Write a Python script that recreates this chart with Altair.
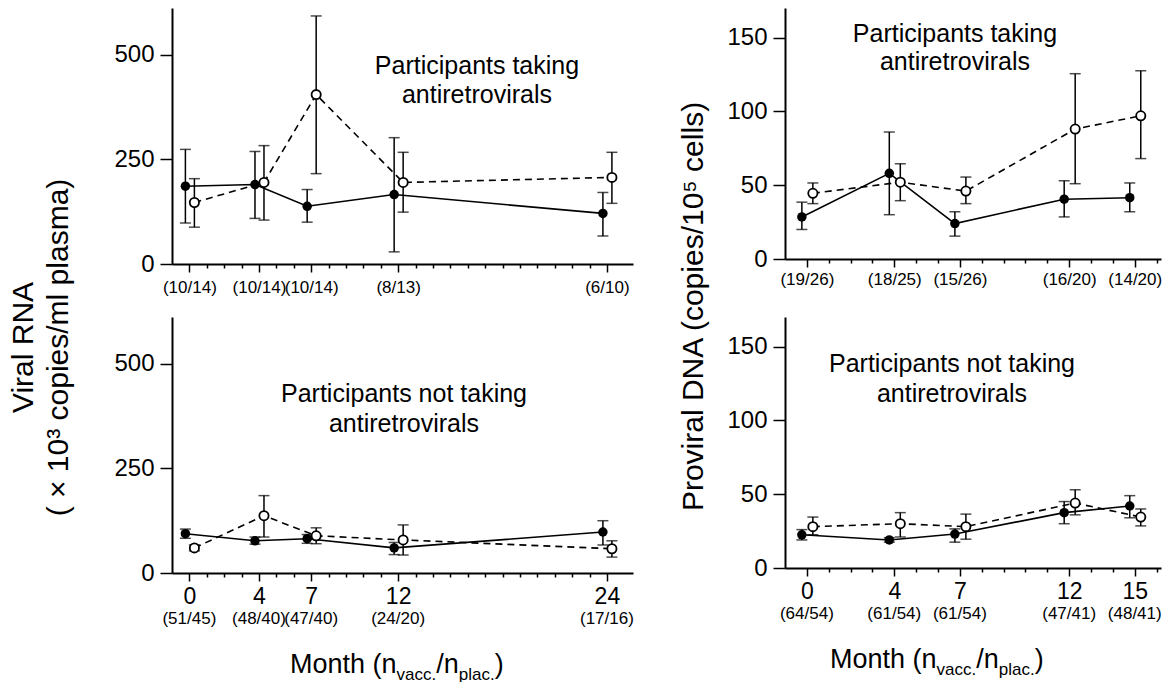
import altair as alt
import pandas as pd

FONT = "Liberation Sans"

# ---------------- data ----------------
months_rna = [0, 4, 7, 12, 24]
months_dna = [0, 4, 7, 12, 15]

# Viral RNA (x10^3 copies/ml plasma), participants taking antiretrovirals
rna_art_vacc = [186, 190, 138, 166, 121]
rna_art_vacc_lo = [98, 109, 100, 29, 67]
rna_art_vacc_hi = [274, 269, 178, 302, 171]
rna_art_plac = [147, 195, 405, 195, 207]
rna_art_plac_lo = [88, 105, 216, 124, 145]
rna_art_plac_hi = [204, 283, 593, 267, 267]

# Viral RNA, participants not taking antiretrovirals
rna_no_vacc = [94, 77, 82, 60, 98]
rna_no_vacc_lo = [83, 69, 71, 44, 67]
rna_no_vacc_hi = [105, 86, 92, 73, 125]
rna_no_plac = [60, 137, 89, 79, 58]
rna_no_plac_lo = [53, 86, 70, 43, 38]
rna_no_plac_hi = [67, 185, 108, 115, 77]

# Proviral DNA (copies/10^5 cells), taking antiretrovirals
dna_art_vacc = [28.5, 58, 24, 40.5, 41.5]
dna_art_vacc_lo = [20, 30, 15.5, 28.5, 32]
dna_art_vacc_hi = [38.5, 86, 32, 53, 51.5]
dna_art_plac = [44.5, 52, 46, 88, 97]
dna_art_plac_lo = [37.5, 39.5, 37.5, 51, 68]
dna_art_plac_hi = [51.5, 64.5, 55.5, 125.5, 127.5]

# Proviral DNA, not taking antiretrovirals
dna_no_vacc = [22.5, 19, 23, 37.5, 42]
dna_no_vacc_lo = [19, 17.5, 17.5, 30, 34]
dna_no_vacc_hi = [26, 20.5, 26.5, 45, 49]
dna_no_plac = [28, 30, 28, 44, 34.5]
dna_no_plac_lo = [22.5, 21, 19.5, 36, 28.5]
dna_no_plac_hi = [34.5, 37.5, 36.5, 53, 40]

n_rna_art = ["(10/14)", "(10/14)", "(10/14)", "(8/13)", "(6/10)"]
n_rna_no = ["(51/45)", "(48/40)", "(47/40)", "(24/20)", "(17/16)"]
n_dna_art = ["(19/26)", "(18/25)", "(15/26)", "(16/20)", "(14/20)"]
n_dna_no = ["(64/54)", "(61/54)", "(61/54)", "(47/41)", "(48/41)"]

rna_yticks = [0, 250, 500]
dna_yticks = [0, 50, 100, 150]

# ---------------- helpers ----------------
CW = {"M": 833, "o": 556, "n": 556, "t": 278, "h": 556, " ": 278, "(": 333,
      ")": 333, "v": 500, "a": 556, "c": 500, ".": 278, "/": 278, "p": 556, "l": 222}


def tw(s, size):
    return sum(CW[c] for c in s) * size / 1000.0


def tern(months, labels):
    expr = "''"
    for m, l in reversed(list(zip(months, labels))):
        expr = f"datum.value == {m} ? '{l}' : ({expr})"
    return expr


def panel(months, vac, plac, nlabels, xdomain, tick_months, ydomain, yticks,
          width, height, top_row, annot, annot_x, annot_y, annot_lh,
          off_v, off_p, ytitle=None, lab_pad=6, xtitle_x=None):
    vdf = pd.DataFrame({"month": months, "value": vac[0], "lo": vac[1], "hi": vac[2]})
    pdf = pd.DataFrame({"month": months, "value": plac[0], "lo": plac[1], "hi": plac[2]})
    xs = alt.Scale(domain=xdomain, nice=False, zero=False)
    ys = alt.Scale(domain=ydomain, nice=False)
    major = f"indexof({list(months)}, datum.value) >= 0"
    if top_row:
        lab_expr = tern(months, nlabels)
        lab_size = 17
    else:
        lab_expr = f"{major} ? datum.label : ''"
        lab_size = 23
    xax = alt.Axis(values=tick_months, labelExpr=lab_expr, labelFontSize=lab_size,
                   labelPadding=lab_pad, labelFont=FONT, labelColor="black",
                   tickSize={"condition": {"test": major, "value": 8}, "value": 4},
                   tickWidth=1.5, tickColor="black", domainWidth=2, domainColor="black",
                   grid=False, title=None, labelFlush=False, labelOverlap=False,
                   labelBound=False)
    ykw = dict(values=yticks, tickSize=12, tickWidth=1.5, tickColor="black",
               domainWidth=2, domainColor="black", labelFontSize=24, labelFont=FONT,
               labelColor="black", labelPadding=6, grid=False)
    if ytitle:
        ykw.update(ytitle)
    else:
        ykw["title"] = None
    yax = alt.Axis(**ykw)
    X = alt.X("month:Q", scale=xs, axis=xax)

    def Y(f):
        return alt.Y(f"{f}:Q", scale=ys, axis=yax)

    layers = []
    layers.append(alt.Chart(pdf).mark_line(color="black", strokeWidth=1.6,
                                           strokeDash=[7, 5], xOffset=off_p)
                  .encode(x=X, y=Y("value")))
    layers.append(alt.Chart(vdf).mark_line(color="black", strokeWidth=1.6, xOffset=off_v)
                  .encode(x=X, y=Y("value")))
    for df, off in [(vdf, off_v), (pdf, off_p)]:
        layers.append(alt.Chart(df).mark_rule(color="black", strokeWidth=1.5, xOffset=off)
                      .encode(x=X, y=Y("lo"), y2="hi:Q"))
        for f in ["lo", "hi"]:
            layers.append(alt.Chart(df).mark_tick(orient="horizontal", size=11, thickness=1.5,
                                                  color="black", xOffset=off)
                          .encode(x=X, y=Y(f)))
    layers.append(alt.Chart(vdf).mark_point(filled=True, color="black", size=90,
                                            opacity=1, xOffset=off_v)
                  .encode(x=X, y=Y("value")))
    layers.append(alt.Chart(pdf).mark_point(filled=True, fill="white", stroke="black",
                                            strokeWidth=1.8, size=85, opacity=1,
                                            xOffset=off_p)
                  .encode(x=X, y=Y("value")))
    if not top_row:
        ldf = pd.DataFrame({"month": months, "lab": nlabels})
        layers.append(alt.Chart(ldf).mark_text(fontSize=17, font=FONT, color="black",
                                               baseline="middle")
                      .encode(x=X, y=alt.value(height + 46), text="lab:N"))
        # x title with subscripts
        pieces = [("Month (n", 27, 0), ("vacc.", 17, 7), ("/n", 27, 0),
                  ("plac.", 17, 7), (")", 27, 0)]
        cx = xtitle_x
        one = pd.DataFrame({"a": [1]})
        for s, fs, dy in pieces:
            layers.append(alt.Chart(one).mark_text(text=s, fontSize=fs, font=FONT,
                                                   color="black", align="left",
                                                   baseline="alphabetic")
                          .encode(x=alt.value(cx), y=alt.value(height + 100 + dy)))
            cx += tw(s, fs)
    one = pd.DataFrame({"a": [1]})
    layers.append(alt.Chart(one).mark_text(text=annot, fontSize=25, font=FONT,
                                           color="black", align="center",
                                           baseline="alphabetic", lineHeight=annot_lh)
                  .encode(x=alt.value(annot_x), y=alt.value(annot_y)))
    return alt.layer(*layers).properties(width=width, height=height)


LW, LH = 461, 256
RW, RH = 376, 251
left_x = [-1, 25.5]
right_x = [-1, 16.2]

tl = panel(months_rna, (rna_art_vacc, rna_art_vacc_lo, rna_art_vacc_hi),
           (rna_art_plac, rna_art_plac_lo, rna_art_plac_hi), n_rna_art,
           left_x, list(range(0, 25)), [0, 612], rna_yticks, LW, LH, True,
           ["Participants taking", "antiretrovirals"], 305, 66, 29, -4, 5,
           ytitle=dict(title=["Viral RNA", "( \u00d7 10\u00b3 copies/ml plasma)"],
                       titleX=-149, titleY=339, titleAngle=270, titleAlign="center",
                       titleBaseline="middle", titleLineHeight=35, titleFontSize=30,
                       titleFont=FONT, titleFontWeight="normal", titleColor="black"),
           lab_pad=7)
bl = panel(months_rna, (rna_no_vacc, rna_no_vacc_lo, rna_no_vacc_hi),
           (rna_no_plac, rna_no_plac_lo, rna_no_plac_hi), n_rna_no,
           left_x, list(range(0, 25)), [0, 612], rna_yticks, LW, LH, False,
           ["Participants not taking", "antiretrovirals"], 232, 85, 30, -4, 5,
           lab_pad=4, xtitle_x=118)
tr = panel(months_dna, (dna_art_vacc, dna_art_vacc_lo, dna_art_vacc_hi),
           (dna_art_plac, dna_art_plac_lo, dna_art_plac_hi), n_dna_art,
           right_x, list(range(0, 17)), [0, 170], dna_yticks, RW, RH, True,
           ["Participants taking", "antiretrovirals"], 170, 34, 28, -5, 6,
           ytitle=dict(title="Proviral DNA (copies/10\u2075 cells)",
                       titleX=-92, titleY=298, titleAngle=270, titleAlign="center",
                       titleBaseline="middle", titleFontSize=30, titleFont=FONT,
                       titleFontWeight="normal", titleColor="black"),
           lab_pad=4)
br = panel(months_dna, (dna_no_vacc, dna_no_vacc_lo, dna_no_vacc_hi),
           (dna_no_plac, dna_no_plac_lo, dna_no_plac_hi), n_dna_no,
           right_x, list(range(0, 17)), [0, 170], dna_yticks, RW, RH, False,
           ["Participants not taking", "antiretrovirals"], 167, 55, 30, -5, 6,
           lab_pad=4, xtitle_x=45)

chart = (alt.concat(tl, tr, bl, br, columns=2, spacing={"row": 53, "column": 152},
                    bounds="flush", align="each")
         .properties(padding=0, background="white")
         .configure_view(stroke=None))

chart.save("out.html", embed_options={"renderer": "svg", "actions": False})
